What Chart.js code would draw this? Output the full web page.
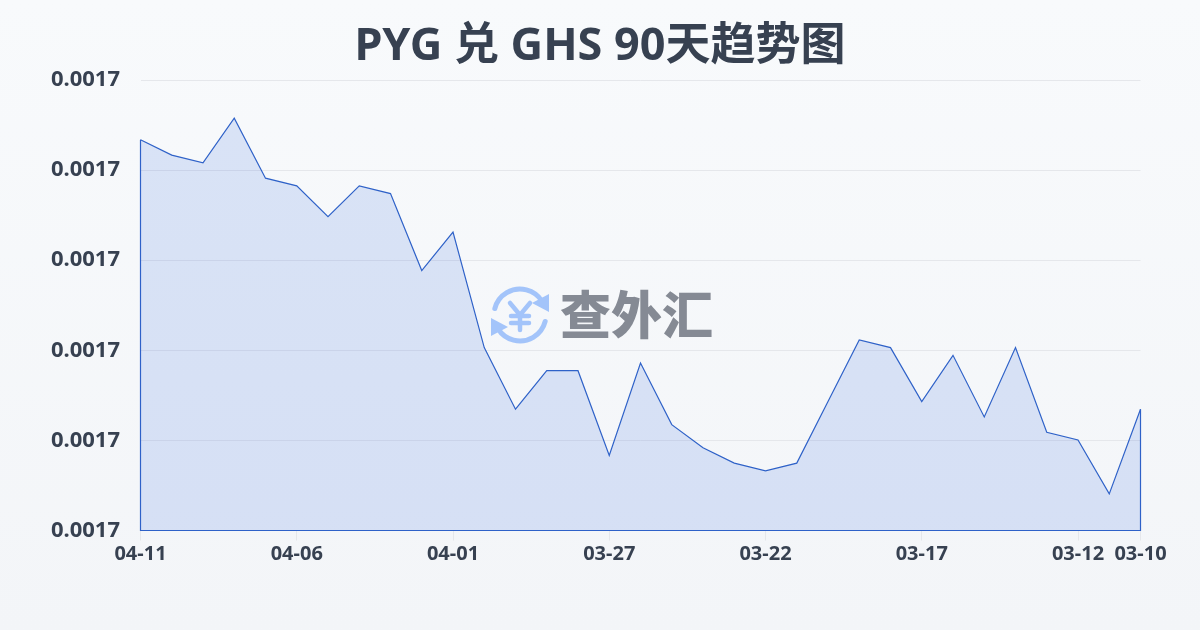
<!DOCTYPE html>
<html>
<head>
<meta charset="utf-8">
<title>PYG 兑 GHS 90天趋势图</title>
<script src="https://cdn.jsdelivr.net/npm/chart.js@4/dist/chart.umd.min.js"></script>
<style>
  html, body { margin: 0; padding: 0; }
  body { width: 1200px; height: 630px; overflow: hidden; background: linear-gradient(180deg, #f8fafc 0%, #f3f5f8 100%); }
  canvas { display: block; }
</style>
</head>
<body>
<canvas id="rateChart" width="1200" height="630"></canvas>
<script>
const FONT = '"Noto Sans", "Noto Sans CJK SC", sans-serif';

const titleText = "PYG 兑 GHS 90天趋势图";
const watermarkText = "查外汇";

const dates = [
  "04-11", "04-10", "04-09", "04-08", "04-07", "04-06", "04-05", "04-04", "04-03", "04-02", "04-01",
  "03-31", "03-30", "03-29", "03-28", "03-27", "03-26", "03-25", "03-24", "03-23", "03-22",
  "03-21", "03-20", "03-19", "03-18", "03-17", "03-16", "03-15", "03-14", "03-13", "03-12",
  "03-11", "03-10",
];

const rates = [
  0.0016951, 0.0016949, 0.0016948, 0.00169538, 0.0016946, 0.0016945, 0.0016941, 0.0016945, 0.0016944,
  0.0016934, 0.0016939, 0.0016924, 0.0016916, 0.0016921, 0.0016921, 0.0016910, 0.0016922, 0.0016914,
  0.0016911, 0.0016909, 0.0016908, 0.0016909, 0.0016917, 0.0016925, 0.0016924, 0.0016917, 0.0016923,
  0.0016915, 0.0016924, 0.0016913, 0.0016912, 0.0016905, 0.0016916,
];

const shownDates = ["04-11", "04-06", "04-01", "03-27", "03-22", "03-17", "03-12", "03-10"];

const yMin = 0.001690025;
const yStep = 0.00000117;
const yMax = yMin + yStep * 5;

// draws the watermark logo and name over the plot
const watermark = {
  id: "watermark",
  afterDatasetsDraw(chart) {
    const ctx = chart.ctx;
    const cx = 520, cy = 315, r = 26;
    ctx.save();
    ctx.strokeStyle = "#a3c4fa";
    ctx.fillStyle = "#a3c4fa";
    ctx.lineWidth = 5;
    ctx.lineCap = "round";
    ctx.beginPath();
    ctx.arc(cx, cy, r, Math.PI * 1.08, Math.PI * 1.82);
    ctx.stroke();
    ctx.beginPath();
    ctx.arc(cx, cy, r, Math.PI * 0.08, Math.PI * 0.82);
    ctx.stroke();
    ctx.beginPath();
    ctx.moveTo(549, 294); ctx.lineTo(549, 312); ctx.lineTo(532, 303);
    ctx.closePath(); ctx.fill();
    ctx.beginPath();
    ctx.moveTo(491, 318); ctx.lineTo(491, 336); ctx.lineTo(508, 327);
    ctx.closePath(); ctx.fill();
    ctx.lineWidth = 4.5;
    ctx.beginPath();
    ctx.moveTo(510, 303); ctx.lineTo(520, 315); ctx.lineTo(530, 303);
    ctx.moveTo(520, 315); ctx.lineTo(520, 330);
    ctx.moveTo(511, 316); ctx.lineTo(529, 316);
    ctx.moveTo(511, 323); ctx.lineTo(529, 323);
    ctx.stroke();
    ctx.fillStyle = "#858a94";
    ctx.font = '900 51px "Noto Sans CJK SC", sans-serif';
    ctx.textAlign = "left";
    ctx.textBaseline = "middle";
    ctx.fillText(watermarkText, 560, 315);
    ctx.restore();
  },
};

new Chart(document.getElementById("rateChart"), {
  type: "line",
  data: {
    labels: dates,
    datasets: [
      {
        data: rates,
        borderColor: "#2f62c8",
        borderWidth: 1.2,
        backgroundColor: "rgba(44, 100, 220, 0.15)",
        fill: "start",
        tension: 0,
        pointRadius: 0,
      },
      {
        // closes the area outline down the sides and along the base
        data: [
          { x: dates[0], y: rates[0] },
          { x: dates[0], y: yMin },
          { x: dates[dates.length - 1], y: yMin },
          { x: dates[dates.length - 1], y: rates[rates.length - 1] },
        ],
        borderColor: "#2f62c8",
        borderWidth: 1.2,
        fill: false,
        tension: 0,
        pointRadius: 0,
        clip: false,
      },
    ],
  },
  options: {
    responsive: false,
    animation: false,
    layout: { padding: 0 },
    plugins: {
      legend: { display: false },
      tooltip: { enabled: false },
      title: {
        display: true,
        text: titleText,
        color: "#374151",
        font: { family: FONT, size: 45, weight: "bold", lineHeight: 1.2 },
        padding: { top: 20, bottom: 6 },
      },
    },
    scales: {
      x: {
        type: "category",
        afterBuildTicks(scale) {
          scale.ticks = shownDates.map((d) => ({ value: dates.indexOf(d) }));
        },
        afterFit(scale) { scale.height = 99.5; },
        grid: { drawOnChartArea: false, drawTicks: true, tickLength: 10, tickColor: "#e5e7eb" },
        border: { display: false },
        ticks: {
          autoSkip: false,
          maxRotation: 0,
          padding: 2,
          color: "#374151",
          font: { family: FONT, size: 20, weight: "bold" },
          callback(value) { return dates[value]; },
        },
      },
      y: {
        min: yMin,
        max: yMax,
        afterBuildTicks(scale) {
          scale.ticks = [0, 1, 2, 3, 4, 5].map((i) => ({ value: yMin + yStep * i }));
        },
        afterFit(scale) { scale.width = 140.5; },
        grid: { color: "#e5e7eb", lineWidth: 1, drawTicks: false },
        border: { display: false },
        ticks: {
          padding: 20.5,
          color: "#374151",
          font: { family: FONT, size: 22, weight: "bold" },
          callback(value) { return value.toFixed(4); },
        },
      },
      // empty axis, keeps the margin on the right while the title stays centred on the page
      rightGap: {
        position: "right",
        afterFit(scale) { scale.width = 59.5; },
        grid: { display: false },
        border: { display: false },
        ticks: { display: false },
      },
    },
  },
  plugins: [watermark],
});
</script>
</body>
</html>
